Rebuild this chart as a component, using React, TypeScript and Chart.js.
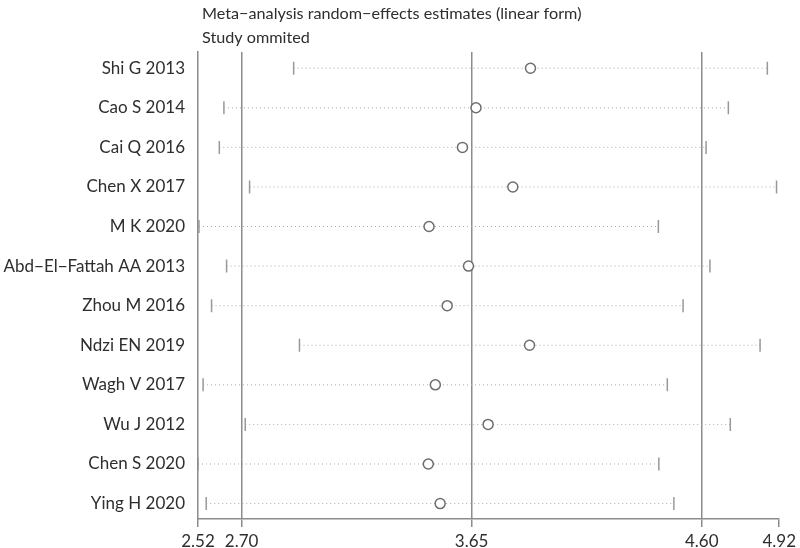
import React, { useEffect, useRef } from "react";
import { Chart, registerables } from "chart.js";

Chart.register(...registerables);

const studies = [
  "Shi G 2013",
  "Cao S 2014",
  "Cai Q 2016",
  "Chen X 2017",
  "M K 2020",
  "Abd\u2212El\u2212Fattah AA 2013",
  "Zhou M 2016",
  "Ndzi EN 2019",
  "Wagh V 2017",
  "Wu J 2012",
  "Chen S 2020",
  "Ying H 2020",
];
const estimates = [3.893, 3.668, 3.612, 3.82, 3.474, 3.637, 3.549, 3.889, 3.5, 3.718, 3.471, 3.52];
const lowers = [2.915, 2.627, 2.608, 2.733, 2.524, 2.638, 2.576, 2.939, 2.541, 2.715, 2.52, 2.554];
const uppers = [4.871, 4.71, 4.618, 4.909, 4.421, 4.634, 4.523, 4.841, 4.458, 4.718, 4.423, 4.485];
const xTickValues = [2.52, 2.7, 3.65, 4.6, 4.92];
const refLines = [2.7, 3.65, 4.6];
const titleLines = ["Meta\u2212analysis random\u2212effects estimates (linear form)", "Study ommited"];

const FONT = "Lato, 'Open Sans', sans-serif";
const AXIS_GRAY = "#8c8c8c";
const TEXT = "#2e2e2e";

export default function App() {
  const ref = useRef<HTMLCanvasElement | null>(null);

  useEffect(() => {
    document.body.style.margin = "0";
    const canvas = ref.current;
    if (!canvas) return;

    const lineSets = studies.map((s, i) => ({
      label: s,
      showLine: true,
      data: [
        { x: lowers[i], y: i },
        { x: uppers[i], y: i },
      ],
      borderColor: "#a8a8a8",
      borderWidth: 1,
      borderDash: [1, 3],
      pointRadius: 0,
      order: 3,
    }));

    const caps = {
      label: "caps",
      data: studies.flatMap((_, i) => [
        { x: lowers[i], y: i },
        { x: uppers[i], y: i },
      ]),
      pointStyle: "line",
      rotation: 90,
      pointRadius: 6.5,
      pointBorderColor: "#999999",
      pointBorderWidth: 1.5,
      showLine: false,
      order: 2,
    };

    const ests = {
      label: "estimates",
      data: studies.map((_, i) => ({ x: estimates[i], y: i })),
      pointStyle: "circle",
      pointRadius: 5,
      pointBorderWidth: 1.5,
      pointBorderColor: "#6e6e6e",
      pointBackgroundColor: "#ffffff",
      showLine: false,
      order: 1,
    };

    const titlePlugin = {
      id: "titleText",
      afterDraw(chart: any) {
        const { ctx, chartArea } = chart;
        ctx.save();
        ctx.fillStyle = TEXT;
        ctx.font = `16.2px ${FONT}`;
        ctx.textAlign = "left";
        ctx.textBaseline = "middle";
        ctx.fillText(titleLines[0], chartArea.left + 4, 14);
        ctx.fillText(titleLines[1], chartArea.left + 4, 38);
        ctx.restore();
      },
    };

    const chart = new Chart(canvas, {
      type: "scatter",
      data: { datasets: [...lineSets, caps, ests] as any },
      plugins: [titlePlugin],
      options: {
        animation: false,
        responsive: false,
        maintainAspectRatio: false,
        layout: { padding: { top: 52, left: 0, right: 18, bottom: 0 } },
        plugins: { legend: { display: false }, tooltip: { enabled: false }, title: { display: false } },
        scales: {
          x: {
            type: "linear",
            min: 2.52,
            max: 4.92,
            afterBuildTicks: (axis: any) => {
              axis.ticks = xTickValues.map((v) => ({ value: v }));
            },
            afterFit: (axis: any) => {
              axis.height = 29;
            },
            ticks: {
              autoSkip: false,
              maxRotation: 0,
              padding: 4,
              color: TEXT,
              font: { family: FONT, size: 17 },
              callback: (v: any) => Number(v).toFixed(2),
            },
            grid: {
              color: (c: any) =>
                c.tick && refLines.some((r) => Math.abs(r - c.tick.value) < 1e-6) ? AXIS_GRAY : "rgba(0,0,0,0)",
              tickColor: AXIS_GRAY,
              lineWidth: 1.5,
              tickLength: 8,
              drawTicks: true,
            },
            border: { display: true, color: AXIS_GRAY, width: 1.5 },
          },
          y: {
            type: "linear",
            reverse: true,
            min: -0.41,
            max: 11.39,
            afterBuildTicks: (axis: any) => {
              axis.ticks = studies.map((_, i) => ({ value: i }));
            },
            afterFit: (axis: any) => {
              axis.width = 198;
            },
            ticks: {
              autoSkip: false,
              padding: 5,
              color: TEXT,
              font: { family: FONT, size: 17 },
              callback: (v: any) => studies[Math.round(Number(v))] ?? "",
            },
            grid: { display: false },
            border: { display: true, color: AXIS_GRAY, width: 1.5 },
          },
        },
      } as any,
    });

    return () => chart.destroy();
  }, []);

  return (
    <div style={{ width: 800, height: 548, background: "#ffffff" }}>
      <canvas ref={ref} width={800} height={548} style={{ display: "block" }} />
    </div>
  );
}
